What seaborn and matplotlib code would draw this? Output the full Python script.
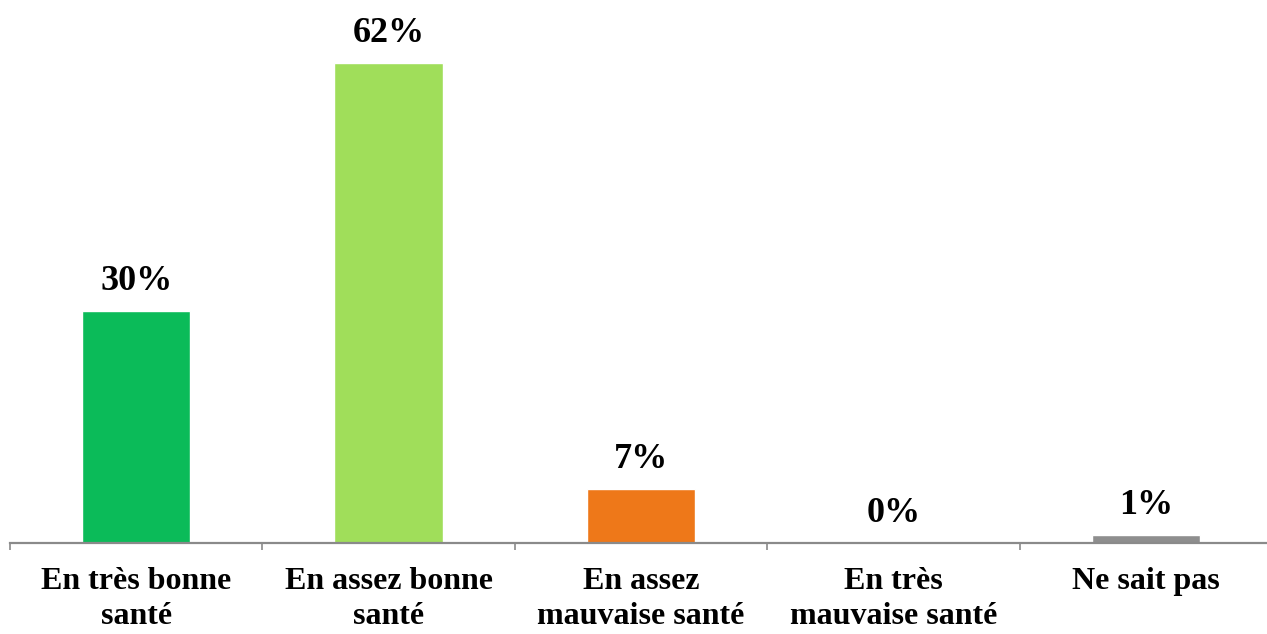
import matplotlib
matplotlib.use("Agg")
import matplotlib.pyplot as plt
import seaborn as sns
import pandas as pd

# Données
categories = ["En très bonne\nsanté", "En assez bonne\nsanté", "En assez\nmauvaise santé",
              "En très\nmauvaise santé", "Ne sait pas"]
valeurs = [30, 62, 7, 0, 1]
couleurs = ["#0BBB59", "#A0DE5A", "#EE7819", "#EE7819", "#8E8E8E"]

df = pd.DataFrame({"categorie": categories, "valeur": valeurs})

sns.set_style("white")
plt.rcParams["font.family"] = ["Liberation Serif", "DejaVu Serif"]
plt.rcParams["text.color"] = "black"

fig = plt.figure(figsize=(12.67, 6.34), dpi=100)
ax = fig.add_axes([10 / 1267, 0.1435, 1262 / 1267, 0.855])

sns.barplot(data=df, x="categorie", y="valeur", hue="categorie", palette=couleurs,
            width=0.43, legend=False, ax=ax, saturation=1)

# Étiquettes de pourcentage
for i, v in enumerate(valeurs):
    ax.annotate(f"{v}%", (i, v), xytext=(0, 15), textcoords="offset points",
                ha="center", va="baseline", fontsize=26, fontweight="bold", color="black")

ax.set_xlim(-0.5, 4.5)
ax.set_ylim(0, 70)
ax.set_xlabel("")
ax.set_ylabel("")
ax.set_yticks([])

for side in ["left", "right", "top"]:
    ax.spines[side].set_visible(False)
ax.spines["bottom"].set_color("#8A8A8A")
ax.spines["bottom"].set_linewidth(1.6)

# Graduations entre catégories
ax.set_xticks([-0.5, 0.5, 1.5, 2.5, 3.5, 4.5])
ax.set_xticklabels([])
ax.set_xticks(range(len(categories)), minor=True)
ax.set_xticklabels(categories, minor=True, fontsize=23, fontweight="bold",
                   linespacing=1.3, color="black")
ax.tick_params(axis="x", which="major", bottom=True, length=5, width=1.2, color="#8A8A8A")
ax.tick_params(axis="x", which="minor", bottom=False, length=0, pad=17)

fig.savefig("out.png", dpi=100)
